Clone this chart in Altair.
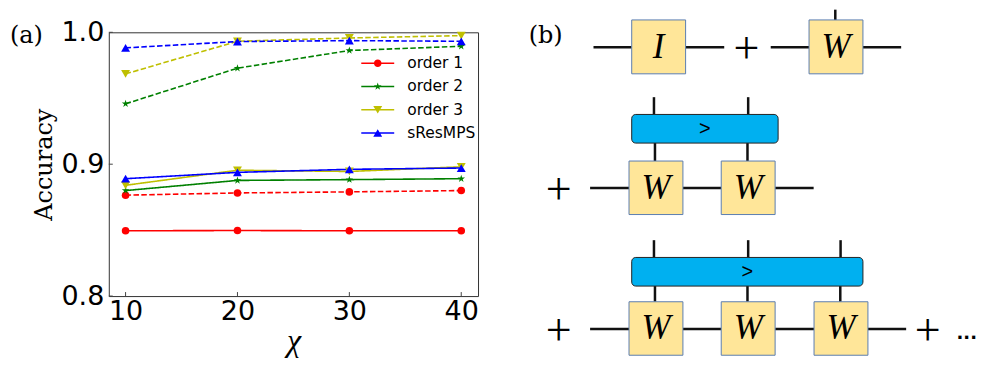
import altair as alt
import pandas as pd

# ---------------- panel (a) data ----------------
chi = [10, 20, 30, 40]
series = ["order 1", "order 2", "order 3", "sResMPS"]
colors = ["#ff0000", "#008000", "#bfbf00", "#0000ff"]

solid_order1 = [0.8495, 0.8497, 0.8495, 0.8495]
solid_order2 = [0.8800, 0.8877, 0.8883, 0.8890]
solid_order3 = [0.8840, 0.8954, 0.8945, 0.8980]
solid_sresmps = [0.8890, 0.8938, 0.8961, 0.8971]
dashed_order1 = [0.8765, 0.8782, 0.8790, 0.8800]
dashed_order2 = [0.9458, 0.9728, 0.9862, 0.9894]
dashed_order3 = [0.9685, 0.9932, 0.9957, 0.9975]
dashed_sresmps = [0.9882, 0.9930, 0.9937, 0.9932]

y_ticks = [0.8, 0.9, 1.0]
panel_a = ["(a)"]

# ---------------- panel (b) diagram data (page coordinates) ----------------
box_x1 = [630, 807.7, 627.3, 719.7, 627.3, 719.7, 812.7]
box_x2 = [684, 861.7, 681.3, 773.7, 681.3, 773.7, 866.7]
box_y1 = [19.3, 19.3, 160.7, 160.7, 301.7, 301.7, 301.7]
box_y2 = [73.3, 73.3, 214.3, 214.3, 355.3, 355.3, 355.3]
box_label = ["I", "W", "W", "W", "W", "W", "W"]

op_x1 = [630, 630]
op_x2 = [776.7, 861.7]
op_y1 = [114, 257.3]
op_y2 = [142.7, 286]
op_label = [">", ">"]

h_wire_y = [46.7, 46.7, 46.7, 46.7, 187.7, 187.7, 187.7, 329, 329, 329, 329]
h_wire_x1 = [591.7, 684, 769.3, 861.7, 588.3, 681.3, 773.7, 588.3, 681.3, 773.7, 866.7]
h_wire_x2 = [630, 722.7, 807.7, 900, 627.3, 719.7, 812.3, 627.3, 719.7, 812.7, 905]

v_wire_x = [834, 652.3, 746.7, 653.3, 746, 652.3, 746.7, 839.3, 653.3, 746, 839]
v_wire_y1 = [9, 96.7, 96.7, 142.7, 142.7, 240, 240, 240, 286, 286, 286]
v_wire_y2 = [19.3, 114, 114, 160.7, 160.7, 257.3, 257.3, 257.3, 301.7, 301.7, 301.7]

plus_x = [745, 556.7, 556.7, 926.7]
plus_y = [46.7, 187.7, 329, 329]
plus_text = ["+", "+", "+", "+"]

panel_b = ["(b)"]
panel_b_x = [526.7]
panel_b_y = [35]
dots_text = ["..."]
dots_x = [955.5]
dots_y = [334]

# ---------------- build panel (a) ----------------
solid = [solid_order1, solid_order2, solid_order3, solid_sresmps]
dashed = [dashed_order1, dashed_order2, dashed_order3, dashed_sresmps]
rows = []
for s, sv, dv in zip(series, solid, dashed):
    for c, a in zip(chi, sv):
        rows.append({"chi": c, "acc": a, "series": s, "style": "solid"})
    for c, a in zip(chi, dv):
        rows.append({"chi": c, "acc": a, "series": s, "style": "dashed"})
df = pd.DataFrame(rows)

W_A, H_A = 370, 264.3

xscale = alt.Scale(domain=[8.5, 41.5], nice=False, zero=False)
yscale = alt.Scale(domain=[0.8, 1.0], nice=False, zero=False)

xenc = alt.X("chi:Q", scale=xscale,
             axis=alt.Axis(values=chi, ticks=False, domain=False, grid=False,
                           labelFont="DejaVu Sans", labelFontSize=27, labelColor="black",
                           labelPadding=2, labelFlush=False,
                           title="χ", titleFont="Liberation Serif", titleFontStyle="italic",
                           titleFontWeight="normal", titleFontSize=32, titleColor="black",
                           titlePadding=2))
yenc = alt.Y("acc:Q", scale=yscale,
             axis=alt.Axis(values=y_ticks, format=".1f", ticks=False, domain=False, grid=False,
                           labelFont="DejaVu Sans", labelFontSize=27, labelColor="black",
                           labelPadding=5, labelFlush=False,
                           title="Accuracy", titleFont="DejaVu Serif", titleFontWeight="normal",
                           titleFontSize=24, titleColor="black", titlePadding=4))

base = alt.Chart(df)

lines = base.mark_line(strokeWidth=1.6).encode(
    x=xenc, y=yenc,
    stroke=alt.Stroke("series:N", scale=alt.Scale(range=colors), legend=None),
    strokeDash=alt.StrokeDash("style:N",
                              scale=alt.Scale(domain=["solid", "dashed"], range=[[1, 0], [5.5, 2.4]]),
                              legend=None),
)

star_unit = [(0, -1), (0.225, -0.309), (0.951, -0.309), (0.363, 0.118), (0.588, 0.809),
             (0, 0.382), (-0.588, 0.809), (-0.363, 0.118), (-0.951, -0.309), (-0.225, -0.309)]


def poly(pts, k):
    return "M" + "L".join(f"{x * k:.3f},{y * k:.3f}" for x, y in pts) + "Z"


star_path = poly(star_unit, 1.0)
marker_shapes = ["circle", star_path, "triangle-down", "triangle-up"]
marker_sizes = [58, 64, 80, 80]

marker_layers = []
for s, col, shp, sz in zip(series, colors, marker_shapes, marker_sizes):
    marker_layers.append(
        base.mark_point(filled=True, shape=shp, size=sz, color=col, opacity=1)
        .encode(x="chi:Q", y="acc:Q")
        .transform_filter(alt.datum.series == s)
    )

# legend symbols: a line segment with the marker, in unit coords (8.25 px / unit)
k = 8.25
seg = "M-2,-0.1H2V0.1H-2Z"
r_c = 3.8 / k
circ = f"M{-r_c:.3f},0A{r_c:.3f},{r_c:.3f} 0 1,1 {r_c:.3f},0A{r_c:.3f},{r_c:.3f} 0 1,1 {-r_c:.3f},0Z"
star_leg = poly(star_unit, 4.0 / k)
tr = 4.47 / k
th = 3.87 / k
tri_dn = f"M{-tr:.3f},{-th:.3f}L{tr:.3f},{-th:.3f}L0,{th:.3f}Z"
tri_up = f"M0,{-th:.3f}L{tr:.3f},{th:.3f}L{-tr:.3f},{th:.3f}Z"
legend_paths = [seg + circ, seg + star_leg, seg + tri_dn, seg + tri_up]

leg = alt.Legend(orient="none", legendX=261, legendY=22.5, title=None,
                 symbolSize=272.25, symbolStrokeWidth=0, symbolOpacity=1,
                 labelFont="DejaVu Sans", labelFontSize=15.5, labelColor="black",
                 labelOffset=21, rowPadding=6.3, padding=0)

legend_layer = base.mark_point(filled=True, opacity=0).encode(
    x="chi:Q", y="acc:Q",
    color=alt.Color("series:N", scale=alt.Scale(domain=series, range=colors), legend=leg),
    shape=alt.Shape("series:N", scale=alt.Scale(domain=series, range=legend_paths), legend=leg),
)

ytick_layer = alt.Chart(pd.DataFrame({"t": y_ticks})).mark_rule(color="#444", strokeWidth=1).encode(
    y="t:Q", x=alt.value(0), x2=alt.value(4))
xtick_layer = alt.Chart(pd.DataFrame({"t": chi})).mark_rule(color="#444", strokeWidth=1).encode(
    x="t:Q", y=alt.value(H_A), y2=alt.value(H_A - 4))

label_a = alt.Chart(pd.DataFrame({"lab": panel_a})).mark_text(
    font="DejaVu Serif", fontSize=24, align="left", baseline="middle", color="black"
).encode(x=alt.value(-99), y=alt.value(4), text="lab:N")

left = alt.layer(lines, *marker_layers, legend_layer, ytick_layer, xtick_layer, label_a).properties(
    width=W_A, height=H_A, view=alt.ViewBackground(stroke="#333", strokeWidth=1))

# ---------------- build panel (b) ----------------
X0, X1 = 500, 977
bx = alt.Scale(domain=[X0, X1], nice=False, zero=False)
by = alt.Scale(domain=[31.7, 296], reverse=True, nice=False, zero=False)

boxes = pd.DataFrame({"x1": box_x1, "x2": box_x2, "y1": box_y1, "y2": box_y2, "lab": box_label})
boxes["cx"] = (boxes.x1 + boxes.x2) / 2
boxes["cy"] = (boxes.y1 + boxes.y2) / 2
ops = pd.DataFrame({"x1": op_x1, "x2": op_x2, "y1": op_y1, "y2": op_y2, "lab": op_label})
ops["cx"] = (ops.x1 + ops.x2) / 2
ops["cy"] = (ops.y1 + ops.y2) / 2
hw = pd.DataFrame({"y": h_wire_y, "x1": h_wire_x1, "x2": h_wire_x2})
vw = pd.DataFrame({"x": v_wire_x, "y1": v_wire_y1, "y2": v_wire_y2})
pl = pd.DataFrame({"x": plus_x, "y": plus_y, "t": plus_text})
pb = pd.DataFrame({"x": panel_b_x, "y": panel_b_y, "t": panel_b})
dt = pd.DataFrame({"x": dots_x, "y": dots_y, "t": dots_text})

wire_col = "#111111"
hw_layer = alt.Chart(hw).mark_rule(color=wire_col, strokeWidth=2.5).encode(
    x=alt.X("x1:Q", scale=bx, axis=None), x2="x2:Q", y=alt.Y("y:Q", scale=by, axis=None))
vw_layer = alt.Chart(vw).mark_rule(color=wire_col, strokeWidth=2.5).encode(
    x=alt.X("x:Q", scale=bx, axis=None), y=alt.Y("y1:Q", scale=by, axis=None), y2="y2:Q")
box_layer = alt.Chart(boxes).mark_rect(fill="#FFE699", stroke="#5B7DB1", strokeWidth=1).encode(
    x=alt.X("x1:Q", scale=bx, axis=None), x2="x2:Q",
    y=alt.Y("y1:Q", scale=by, axis=None), y2="y2:Q")
box_text = alt.Chart(boxes).mark_text(
    font="Liberation Serif", fontStyle="italic", fontSize=35, color="black",
    align="center", baseline="middle").encode(
    x=alt.X("cx:Q", scale=bx, axis=None), y=alt.Y("cy:Q", scale=by, axis=None), text="lab:N")
op_layer = alt.Chart(ops).mark_rect(fill="#00B0F0", stroke="#222222", strokeWidth=1,
                                    cornerRadius=4).encode(
    x=alt.X("x1:Q", scale=bx, axis=None), x2="x2:Q",
    y=alt.Y("y1:Q", scale=by, axis=None), y2="y2:Q")
op_text = alt.Chart(ops).mark_text(
    font="Liberation Sans", fontSize=20, color="black", align="center", baseline="middle").encode(
    x=alt.X("cx:Q", scale=bx, axis=None), y=alt.Y("cy:Q", scale=by, axis=None), text="lab:N")
plus_layer = alt.Chart(pl).mark_text(
    font="Liberation Serif", fontSize=46, color="black", align="center", baseline="middle",
    dy=2).encode(
    x=alt.X("x:Q", scale=bx, axis=None), y=alt.Y("y:Q", scale=by, axis=None), text="t:N")
pb_layer = alt.Chart(pb).mark_text(
    font="DejaVu Serif", fontSize=24, color="black", align="left", baseline="middle").encode(
    x=alt.X("x:Q", scale=bx, axis=None), y=alt.Y("y:Q", scale=by, axis=None), text="t:N")
dots_layer = alt.Chart(dt).mark_text(
    font="DejaVu Sans", fontWeight="bold", fontSize=18, color="black", align="left",
    baseline="middle").encode(
    x=alt.X("x:Q", scale=bx, axis=None), y=alt.Y("y:Q", scale=by, axis=None), text="t:N")

right = alt.layer(hw_layer, vw_layer, box_layer, op_layer, box_text, op_text,
                  plus_layer, pb_layer, dots_layer).properties(width=X1 - X0, height=H_A)

chart = alt.hconcat(left, right, spacing=23).properties(
    padding={"left": 1, "top": 0, "right": 0, "bottom": 0}
).configure_view(strokeWidth=0)

chart.save("out.html", embed_options={"renderer": "svg", "actions": False})
